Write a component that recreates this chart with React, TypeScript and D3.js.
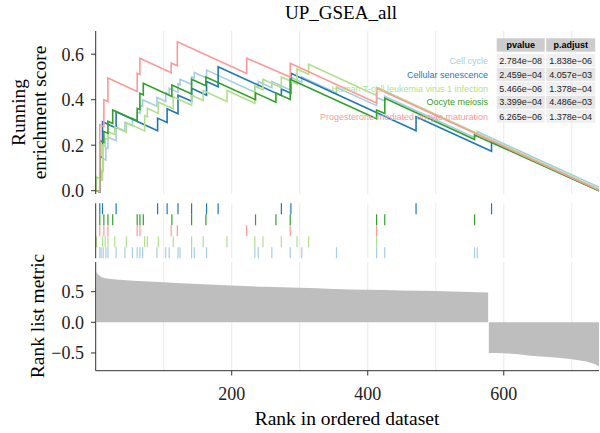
import React from 'react';
import * as d3 from 'd3';

const N = 740;

// hits: [rank, es before jump, es after jump]
const cellCycle = [
  [6, -0.005, 0.05], [8, 0.047, 0.09], [11, 0.086, 0.14], [15, 0.135, 0.19], [18, 0.186, 0.235],
  [30, 0.22, 0.28], [43, 0.262, 0.3], [54, 0.285, 0.32], [61, 0.31, 0.345], [65, 0.34, 0.375],
  [69, 0.37, 0.4], [90, 0.371, 0.41], [103, 0.392, 0.43], [108, 0.423, 0.45], [121, 0.433, 0.47],
  [124, 0.465, 0.49], [141, 0.467, 0.5], [145, 0.495, 0.52], [163, 0.495, 0.53], [234, 0.433, 0.46],
  [239, 0.453, 0.48], [259, 0.453, 0.48], [286, 0.443, 0.5], [303, 0.477, 0.5], [354, 0.43, 0.455],
  [413, 0.374, 0.41], [425, 0.394, 0.415], [557, 0.234, 0.25], [561, 0.245, 0.26],
];
const cellularSenescence = [
  [6, -0.005, 0.15], [10, 0.145, 0.303], [30, 0.276, 0.347], [91, 0.264, 0.319], [105, 0.3, 0.36],
  [121, 0.338, 0.42], [141, 0.393, 0.45], [163, 0.42, 0.48], [180, 0.457, 0.545], [273, 0.418, 0.447],
  [287, 0.428, 0.516], [471, 0.264, 0.325], [582, 0.173, 0.215],
];
const htlvInfection = [
  [1, 0, 0.06], [10, 0.048, 0.2], [14, 0.195, 0.23], [18, 0.225, 0.26], [28, 0.247, 0.28],
  [45, 0.257, 0.3], [72, 0.263, 0.33], [76, 0.325, 0.362], [92, 0.34, 0.39], [114, 0.36, 0.413],
  [141, 0.376, 0.42], [158, 0.397, 0.44], [193, 0.392, 0.44], [234, 0.384, 0.46], [246, 0.444, 0.49],
  [273, 0.453, 0.5], [296, 0.469, 0.535], [313, 0.512, 0.556], [413, 0.419, 0.455],
];
const oocyteMeiosis = [
  [6, -0.005, 0.22], [12, 0.212, 0.26], [18, 0.252, 0.305], [25, 0.295, 0.355], [61, 0.306, 0.362],
  [65, 0.357, 0.428], [70, 0.421, 0.472], [112, 0.414, 0.465], [141, 0.425, 0.49], [162, 0.461, 0.5],
  [235, 0.4, 0.43], [265, 0.389, 0.43], [286, 0.401, 0.49], [413, 0.316, 0.355], [425, 0.339, 0.406],
  [557, 0.225, 0.245],
];
const progesterone = [
  [6, -0.005, 0.29], [12, 0.282, 0.4], [18, 0.392, 0.495], [61, 0.436, 0.516], [65, 0.511, 0.582],
  [111, 0.519, 0.561], [120, 0.549, 0.655], [222, 0.515, 0.582], [286, 0.5, 0.56], [413, 0.386, 0.45],
];
const endES = [0.015, 0, 0.007, 0, 0.002];

const setNames = [
  'Cell cycle',
  'Cellular senescence',
  'Human T-cell leukemia virus 1 infection',
  'Oocyte meiosis',
  'Progesterone-mediated oocyte maturation',
];
const setColors = ['#A6CEE3', '#1F78B4', '#B2DF8A', '#33A02C', '#FB9A99'];
const setHits = [cellCycle, cellularSenescence, htlvInfection, oocyteMeiosis, progesterone];
const rugRow = [4, 0, 3, 1, 2];
const pvalues = ['2.784e\u221208', '2.459e\u221204', '5.466e\u221206', '3.399e\u221204', '6.265e\u221206'];
const padjust = ['1.838e\u221206', '4.057e\u221203', '1.378e\u221204', '4.486e\u221203', '1.378e\u221204'];

const metricPosRanks = [1, 3, 6, 10, 20, 40, 70, 100, 150, 200, 250, 300, 350, 400, 450, 500, 550, 577];
const metricPosValues = [0.82, 0.79, 0.76, 0.73, 0.71, 0.69, 0.67, 0.655, 0.625, 0.6, 0.58, 0.565, 0.545, 0.53, 0.52, 0.51, 0.495, 0.485];
const metricNegRanks = [578, 600, 650, 690, 710, 725, 735, 740];
const metricNegValues = [-0.5, -0.505, -0.555, -0.59, -0.62, -0.65, -0.69, -0.72];

const gridRanks = [100, 200, 300, 400, 500, 600, 700];
const rankTicks = [200, 400, 600];
const esTicks = [0, 0.2, 0.4, 0.6];
const metricTicks = [-0.5, 0, 0.5];

const serif = '"Liberation Serif", serif';
const sans = '"Liberation Sans", Arial, sans-serif';
const axisCol = '#333';

export default function App() {
  const x = d3.scaleLinear().domain([0, N]).range([95.7, 599]);
  const yES = d3.scaleLinear().domain([-0.0145, 0.702]).range([194, 31]);
  const yM = d3.scaleLinear().domain([-0.79, 0.985]).range([370.7, 262]);
  const rugTop = 203.3;
  const rugH = 11;
  const fmt = d3.format('.1f');

  const line = d3.line<number[]>().x((d) => x(d[0])).y((d) => yES(d[1]));
  const area = d3
    .area<number>()
    .curve(d3.curveMonotoneX)
    .y0(yM(0));

  const posPath = area
    .x((_, i) => x(metricPosRanks[i]))
    .y1((d) => yM(d))(metricPosValues);
  const negPath = area
    .x((_, i) => x(metricNegRanks[i]))
    .y1((d) => yM(d))(metricNegValues);

  const legendY = [60.7, 74.5, 88.4, 102.3, 116.4];

  return (
    <svg width={600} height={433} style={{ position: 'absolute', left: 0, top: 0, background: '#fff' }}>
      <text x={341} y={19} textAnchor="middle" fontFamily={serif} fontSize={19}>UP_GSEA_all</text>

      {/* grid */}
      {gridRanks.map((r) => (
        <g key={r}>
          <line x1={x(r)} x2={x(r)} y1={31} y2={194} stroke="#EBEBEB" strokeWidth={1.1} />
          <line x1={x(r)} x2={x(r)} y1={rugTop} y2={rugTop + 5 * rugH} stroke="#EBEBEB" strokeWidth={1.1} />
          <line x1={x(r)} x2={x(r)} y1={262} y2={370.7} stroke="#EBEBEB" strokeWidth={1.1} />
        </g>
      ))}

      {/* running ES */}
      {setHits.map((hits, i) => {
        const pts = [[1, 0], ...hits.flatMap(([r, b, a]) => [[r, b], [r, a]]), [N, endES[i]]];
        return <path key={i} d={line(pts) || ''} fill="none" stroke={setColors[i]} strokeWidth={1.6} />;
      })}

      {/* top axis */}
      <line x1={95.7} x2={95.7} y1={31} y2={194} stroke={axisCol} strokeWidth={1} />
      {esTicks.map((t) => (
        <g key={t}>
          <line x1={91} x2={95.7} y1={yES(t)} y2={yES(t)} stroke={axisCol} />
          <text x={84} y={yES(t)} dy="0.35em" textAnchor="end" fontFamily={serif} fontSize={18} fill="#222">{fmt(t)}</text>
        </g>
      ))}
      <text transform={`translate(25,112.5) rotate(-90)`} textAnchor="middle" fontFamily={serif} fontSize={19.5}>Running</text>
      <text transform={`translate(45.5,112.5) rotate(-90)`} textAnchor="middle" fontFamily={serif} fontSize={19.5}>enrichment score</text>

      {/* legend table */}
      {setNames.map((n, i) => (
        <text key={n} x={488} y={legendY[i]} dy="0.35em" textAnchor="end" fontFamily={sans} fontSize={9} fill={setColors[i]}>{n}</text>
      ))}
      <rect x={496.7} y={38.3} width={48} height={13.4} fill="#CCCCCC" />
      <rect x={546.2} y={38.3} width={49} height={13.4} fill="#CCCCCC" />
      <text x={520.7} y={45} dy="0.35em" textAnchor="middle" fontFamily={sans} fontSize={9} fontWeight="bold">pvalue</text>
      <text x={570.7} y={45} dy="0.35em" textAnchor="middle" fontFamily={sans} fontSize={9} fontWeight="bold">p.adjust</text>
      {pvalues.map((p, i) => (
        <g key={i}>
          <rect x={496.7} y={legendY[i] - 6.6} width={48} height={13} fill={i % 2 ? '#E5E5E5' : '#F0F0F0'} />
          <rect x={546.2} y={legendY[i] - 6.6} width={49} height={13} fill={i % 2 ? '#E5E5E5' : '#F0F0F0'} />
          <text x={520.7} y={legendY[i]} dy="0.35em" textAnchor="middle" fontFamily={sans} fontSize={9} fill="#222">{p}</text>
          <text x={570.7} y={legendY[i]} dy="0.35em" textAnchor="middle" fontFamily={sans} fontSize={9} fill="#222">{padjust[i]}</text>
        </g>
      ))}

      {/* rug */}
      {setHits.map((hits, i) =>
        hits.map(([r]) => (
          <line key={`${i}-${r}`} x1={x(r)} x2={x(r)} y1={rugTop + rugRow[i] * rugH} y2={rugTop + (rugRow[i] + 1) * rugH}
            stroke={setColors[i]} strokeWidth={1.2} />
        ))
      )}
      <line x1={95.7} x2={95.7} y1={rugTop} y2={rugTop + 5 * rugH} stroke={axisCol} />

      {/* rank metric */}
      <path d={posPath || ''} fill="#BEBEBE" />
      <path d={negPath || ''} fill="#BEBEBE" />
      <line x1={95.7} x2={95.7} y1={262} y2={370.7} stroke={axisCol} />
      <line x1={95.7} x2={599} y1={370.7} y2={370.7} stroke={axisCol} />
      {metricTicks.map((t) => (
        <g key={t}>
          <line x1={91} x2={95.7} y1={yM(t)} y2={yM(t)} stroke={axisCol} />
          <text x={84} y={yM(t)} dy="0.35em" textAnchor="end" fontFamily={serif} fontSize={18} fill="#222">{fmt(t)}</text>
        </g>
      ))}
      {rankTicks.map((t) => (
        <g key={t}>
          <line x1={x(t)} x2={x(t)} y1={370.7} y2={375.5} stroke={axisCol} />
          <text x={x(t)} y={400} textAnchor="middle" fontFamily={serif} fontSize={18} fill="#222">{t}</text>
        </g>
      ))}
      <text transform={`translate(44,316) rotate(-90)`} textAnchor="middle" fontFamily={serif} fontSize={19.5}>Rank list metric</text>
      <text x={347} y={425} textAnchor="middle" fontFamily={serif} fontSize={19.5}>Rank in ordered dataset</text>
    </svg>
  );
}
